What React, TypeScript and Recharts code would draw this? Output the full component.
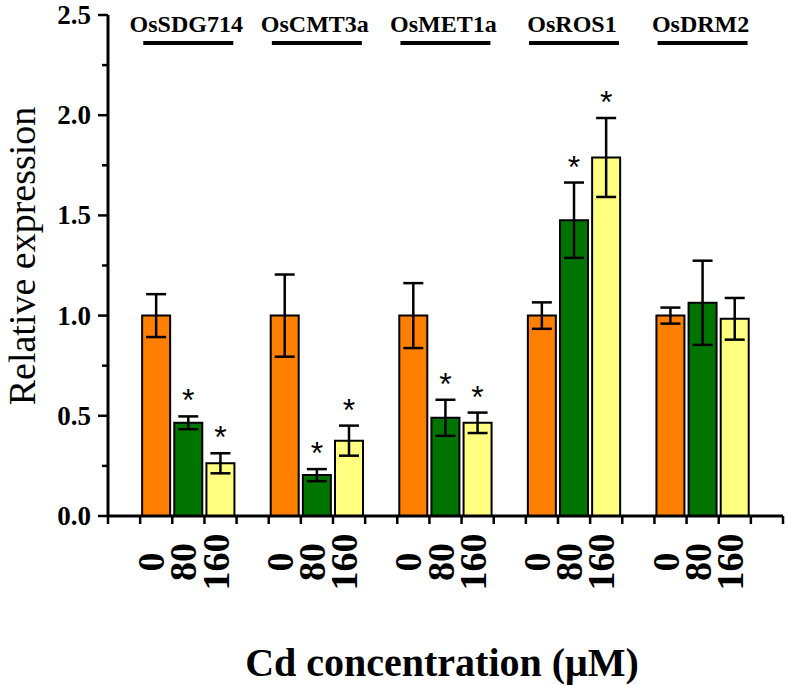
import React from "react";
import { BarChart, Bar, XAxis, YAxis, ErrorBar, Cell, LabelList, Customized } from "recharts";

const genes = ["OsSDG714", "OsCMT3a", "OsMET1a", "OsROS1", "OsDRM2"];
const doses = ["0", "80", "160"];

// relative expression at 0, 80 and 160 µM Cd
const control = [1.0, 1.0, 1.0, 1.0, 1.0];
const cd80 = [0.465, 0.204, 0.49, 1.476, 1.064];
const cd160 = [0.263, 0.376, 0.465, 1.789, 0.984];

const errControl = [0.107, 0.205, 0.162, 0.066, 0.04];
const err80 = [0.032, 0.03, 0.09, 0.188, 0.21];
const err160 = [0.05, 0.075, 0.051, 0.197, 0.104];

const sig80 = [true, true, true, true, false];
const sig160 = [true, true, true, true, false];

const yTicks = [0, 0.25, 0.5, 0.75, 1, 1.25, 1.5, 1.75, 2, 2.25, 2.5];
const Y_MAX = 2.5;

const COLORS = ["#FF8000", "#007400", "#FFFF80"];
const SERIF = "'Liberation Serif', 'Times New Roman', serif";

type Row = {
  slot: string;
  value: number | null;
  err: number | null;
  dose: string;
  gene: string;
  star: boolean;
  fill: string;
};

// one slot per bar, with an empty slot before each gene and one at the end
const rows: Row[] = [];
genes.forEach((g, gi) => {
  rows.push({ slot: `gap-${gi}`, value: null, err: null, dose: "", gene: "", star: false, fill: "none" });
  const vals = [control[gi], cd80[gi], cd160[gi]];
  const errs = [errControl[gi], err80[gi], err160[gi]];
  const sigs = [false, sig80[gi], sig160[gi]];
  doses.forEach((d, di) => {
    rows.push({
      slot: `${g}-${d}`,
      value: vals[di],
      err: errs[di],
      dose: d,
      gene: di === 1 ? g : "",
      star: sigs[di],
      fill: COLORS[di],
    });
  });
});
rows.push({ slot: "gap-end", value: null, err: null, dose: "", gene: "", star: false, fill: "none" });

const findRow = (slot: any) => rows.find((r) => r.slot === slot);

const BottomTick = (props: any) => {
  const { x, y, payload, index } = props;
  const half = payload && payload.offset ? payload.offset : 16;
  const row = rows[index];
  return (
    <g>
      <line x1={x - half} x2={x - half} y1={y} y2={y + 8} stroke="#000" strokeWidth={2.5} />
      {index === rows.length - 1 && (
        <line x1={x + half} x2={x + half} y1={y} y2={y + 8} stroke="#000" strokeWidth={2.5} />
      )}
      {row && row.dose && (
        <text
          transform={`translate(${x + 8},${y + 46}) rotate(-90)`}
          textAnchor="middle"
          fontFamily={SERIF}
          fontWeight="bold"
          fontSize={38}
          fill="#000"
        >
          {row.dose}
        </text>
      )}
    </g>
  );
};

const YTick = (props: any) => {
  const { x, y, payload } = props;
  const v = payload.value as number;
  const major = Math.abs(v * 2 - Math.round(v * 2)) < 1e-6;
  return (
    <g>
      <line x1={x - (major ? 10 : 6)} x2={x} y1={y} y2={y} stroke="#000" strokeWidth={2.5} />
      {major && (
        <text x={x - 17} y={y} dy={9} textAnchor="end" fontFamily={SERIF} fontWeight="bold" fontSize={27} fill="#000">
          {v.toFixed(1)}
        </text>
      )}
    </g>
  );
};

// asterisks above the error bars, gene names above each group
const BarMarks = (props: any) => {
  const { x, y, width, height, value } = props;
  const row = findRow(value);
  if (!row || row.value == null || row.err == null) return null;
  const perUnit = height / row.value;
  const errTop = y - row.err * perUnit;
  const cx = x + width / 2;
  const top = y + height - Y_MAX * perUnit;
  const slotW = width + 4;
  return (
    <g>
      {row.star && (
        <text
          x={cx}
          y={errTop - 5}
          textAnchor="middle"
          fontFamily="'Liberation Sans', Arial, sans-serif"
          fontSize={32}
          fill="#000"
        >
          *
        </text>
      )}
      {row.gene && (
        <g>
          <text x={cx - 2} y={top + 17} textAnchor="middle" fontFamily={SERIF} fontWeight="bold" fontSize={24} fill="#000">
            {row.gene}
          </text>
          <line
            x1={cx - 1.5 * slotW + 3}
            x2={cx + 1.5 * slotW - 3}
            y1={top + 28}
            y2={top + 28}
            stroke="#000"
            strokeWidth={4}
          />
        </g>
      )}
    </g>
  );
};

const Titles = () => (
  <g>
    <text
      transform="translate(35,256) rotate(-90)"
      textAnchor="middle"
      fontFamily={SERIF}
      fontSize={38}
      fill="#000"
    >
      Relative expression
    </text>
    <text x={442} y={676} textAnchor="middle" fontFamily={SERIF} fontWeight="bold" fontSize={40} fill="#000">
      Cd concentration (μM)
    </text>
  </g>
);

export default function App() {
  return (
    <div style={{ position: "absolute", left: 0, top: 0, width: 787, height: 685, background: "#fff" }}>
      <BarChart
        width={787}
        height={685}
        data={rows}
        margin={{ top: 15, right: 4, bottom: 109, left: 48 }}
        barCategoryGap={2}
      >
        <XAxis
          dataKey="slot"
          height={60}
          axisLine={{ stroke: "#000", strokeWidth: 3 }}
          tickLine={false}
          tickSize={0}
          tickMargin={0}
          interval={0}
          tick={<BottomTick />}
        />
        <YAxis
          domain={[0, Y_MAX]}
          ticks={yTicks}
          width={60}
          interval={0}
          axisLine={{ stroke: "#000", strokeWidth: 3 }}
          tickLine={false}
          tickSize={0}
          tickMargin={0}
          tick={<YTick />}
        />
        <Bar dataKey="value" stroke="#000" strokeWidth={2} isAnimationActive={false}>
          {rows.map((r, i) => (
            <Cell key={`cell-${i}`} fill={r.fill} />
          ))}
          <ErrorBar dataKey="err" width={10} stroke="#000" strokeWidth={2.5} direction="y" isAnimationActive={false} />
          <LabelList dataKey="slot" content={<BarMarks />} />
        </Bar>
        <Customized component={Titles} />
      </BarChart>
    </div>
  );
}
